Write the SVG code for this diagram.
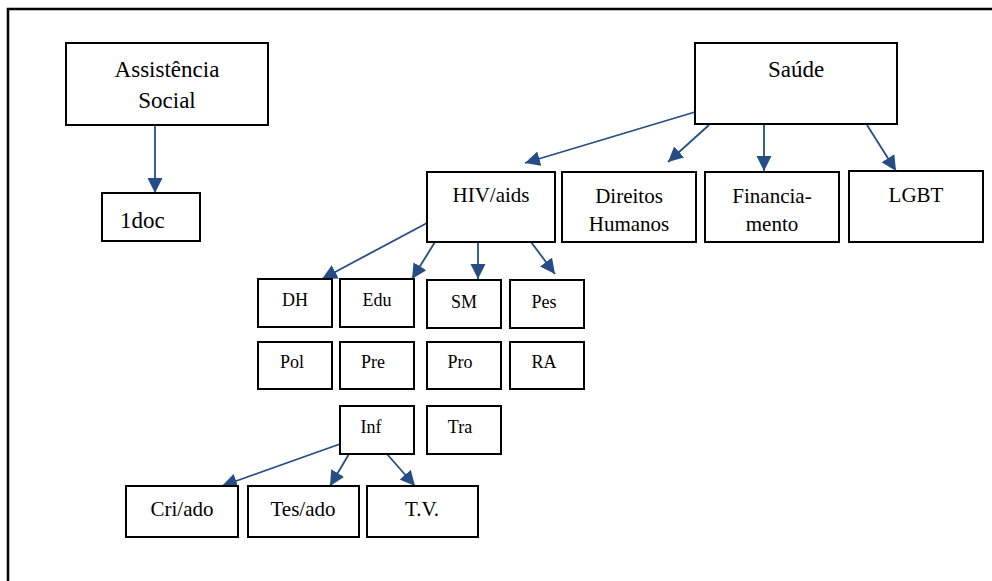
<svg xmlns="http://www.w3.org/2000/svg" width="992" height="581" viewBox="0 0 992 581">
<defs>
<style>
.box{fill:#fff;stroke:#000;stroke-width:2}
.t{fill:#000;text-anchor:middle}
.l{font-size:23px}
.m{font-size:21px}
.s{font-size:18px}
.c{stroke:#264D85;stroke-width:1.8;fill:none;marker-end:url(#ah)}
</style>
<marker id="ah" markerUnits="userSpaceOnUse" markerWidth="16" markerHeight="16" refX="15" refY="8" orient="auto">
<path d="M0,0.5 L15,8 L0,15.5 z" fill="#264D85"/>
</marker>
</defs>
<rect width="992" height="581" fill="#fff"/>
<path d="M8,581 V9 H992" fill="none" stroke="#000" stroke-width="2.5"/>

<g id="connectors">
<line class="c" x1="155" y1="125" x2="155" y2="193"/>
<line class="c" x1="695" y1="112" x2="525" y2="163"/>
<line class="c" x1="709" y1="125" x2="668" y2="162"/>
<line class="c" x1="764" y1="125" x2="764" y2="171"/>
<line class="c" x1="867" y1="125" x2="896" y2="171"/>
<line class="c" x1="427" y1="223" x2="322" y2="279"/>
<line class="c" x1="435" y1="242" x2="412" y2="279"/>
<line class="c" x1="478" y1="242" x2="478" y2="279"/>
<line class="c" x1="531" y1="242" x2="555" y2="274"/>
<line class="c" x1="340" y1="444" x2="222" y2="486"/>
<line class="c" x1="349" y1="454" x2="330" y2="486"/>
<line class="c" x1="387" y1="454" x2="415" y2="486"/>
</g>

<g font-family="'Liberation Serif', 'Times New Roman', Times, serif">
<g id="assistencia"><rect class="box" x="66" y="43" width="202" height="82"/><text class="t l" x="167" y="77">Assistência</text><text class="t l" x="167" y="108">Social</text></g>
<g id="doc"><rect class="box" x="102" y="193" width="98" height="48"/><text class="t l" x="120" y="228" style="text-anchor:start">1doc</text></g>
<g id="saude"><rect class="box" x="695" y="43" width="202" height="81"/><text class="t l" x="796" y="77">Saúde</text></g>
<g id="hiv"><rect class="box" x="427" y="172" width="128" height="70"/><text class="t m" x="491" y="202">HIV/aids</text></g>
<g id="direitos"><rect class="box" x="562" y="172" width="134" height="70"/><text class="t m" x="629" y="203">Direitos</text><text class="t m" x="629" y="231">Humanos</text></g>
<g id="financiamento"><rect class="box" x="705" y="172" width="134" height="70"/><text class="t m" x="772" y="203">Financia-</text><text class="t m" x="772" y="231">mento</text></g>
<g id="lgbt"><rect class="box" x="849" y="171" width="134" height="71"/><text class="t m" x="916" y="202">LGBT</text></g>

<g id="dh"><rect class="box" x="258" y="279" width="74" height="48"/><text class="t s" x="295" y="306">DH</text></g>
<g id="edu"><rect class="box" x="340" y="279" width="74" height="48"/><text class="t s" x="377" y="306">Edu</text></g>
<g id="sm"><rect class="box" x="427" y="280" width="74" height="48"/><text class="t s" x="464" y="308">SM</text></g>
<g id="pes"><rect class="box" x="510" y="280" width="74" height="48"/><text class="t s" x="544" y="308">Pes</text></g>
<g id="pol"><rect class="box" x="258" y="342" width="74" height="47"/><text class="t s" x="292" y="368">Pol</text></g>
<g id="pre"><rect class="box" x="340" y="342" width="74" height="47"/><text class="t s" x="373" y="368">Pre</text></g>
<g id="pro"><rect class="box" x="427" y="342" width="74" height="47"/><text class="t s" x="460" y="368">Pro</text></g>
<g id="ra"><rect class="box" x="510" y="342" width="74" height="47"/><text class="t s" x="544" y="368">RA</text></g>
<g id="inf"><rect class="box" x="340" y="406" width="74" height="48"/><text class="t s" x="371" y="433">Inf</text></g>
<g id="tra"><rect class="box" x="427" y="406" width="74" height="48"/><text class="t s" x="460" y="433">Tra</text></g>

<g id="criado"><rect class="box" x="126" y="486" width="112" height="51"/><text class="t m" x="182" y="516">Cri/ado</text></g>
<g id="tesado"><rect class="box" x="248" y="486" width="111" height="51"/><text class="t m" x="303" y="516">Tes/ado</text></g>
<g id="tv"><rect class="box" x="367" y="486" width="111" height="51"/><text class="t m" x="422" y="516">T.V.</text></g>
</g>
</svg>
